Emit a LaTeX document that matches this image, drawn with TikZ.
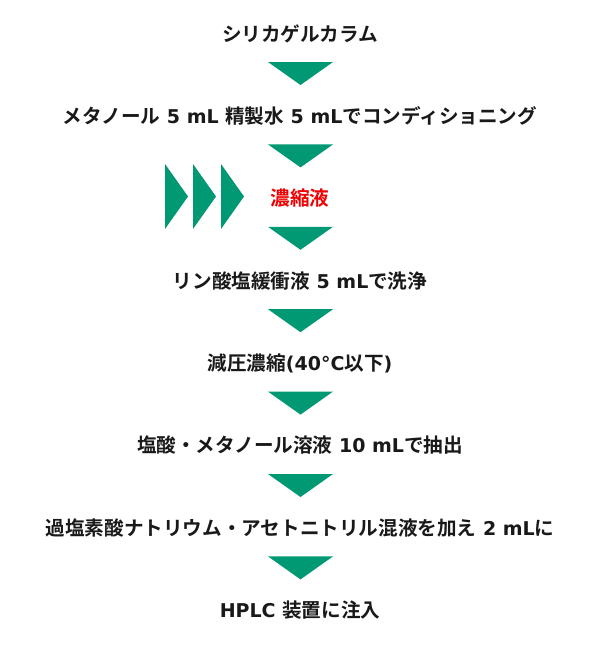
\documentclass[tikz,border=0pt]{standalone}
\usepackage{fontspec}
\newfontfamily\jpfont{Noto Sans CJK JP}[BoldFont={Noto Sans CJK JP Bold}]
\newfontfamily\latfont{DejaVu Sans}[BoldFont={DejaVu Sans Bold}]
\newcommand{\lt}[1]{{\latfont\bfseries\fontsize{19}{22}\selectfont #1}}
\definecolor{flowgreen}{RGB}{0,153,115}
\definecolor{textdark}{RGB}{25,25,25}
\definecolor{conred}{RGB}{240,0,0}
\begin{document}
\begin{tikzpicture}[x=1pt,y=1pt,
  steptext/.style={font=\jpfont\bfseries\fontsize{19.6}{22}\selectfont, text=textdark, inner sep=0pt, anchor=center},
  arrowfill/.style={fill=flowgreen}]
\useasboundingbox (0,0) rectangle (600,-645);
\foreach \i/\t in {0/{シリカゲルカラム},
  1/{メタノール\lt{ 5 mL }精製水\lt{ 5 mL}でコンディショニング},
  3/{リン酸塩緩衝液\lt{ 5 mL}で洗浄},
  4/{減圧濃縮\lt{(40°C}以下\lt{)}},
  5/{塩酸・メタノール溶液\lt{ 10 mL}で抽出},
  6/{過塩素酸ナトリウム・アセトニトリル混液を加え\lt{ 2 mL}に},
  7/{\lt{HPLC }装置に注入}}
  \node[steptext] (t\i) at (300,{-(33.5+82.4*\i)}) {\t};
\node[steptext, text=conred] (t2) at (300,{-(33.5+82.4*2)}) {濃縮液};
% down arrows between steps
\foreach \i in {0,...,6}{
  \coordinate (a\i) at (300.5,{-(62+82.4*\i)});
  \fill[arrowfill] ([xshift=-32.5pt]a\i) -- ([xshift=32.5pt]a\i) -- ([yshift=-23pt]a\i) -- cycle;
}
% side arrows pointing to concentrate
\foreach \j/\x in {0/165,1/193,2/221}{
  \coordinate (s\j) at (\x,-164);
  \fill[arrowfill] (s\j) -- ([xshift=23pt,yshift=-32.5pt]s\j) -- ([yshift=-65pt]s\j) -- cycle;
}
\end{tikzpicture}
\end{document}
